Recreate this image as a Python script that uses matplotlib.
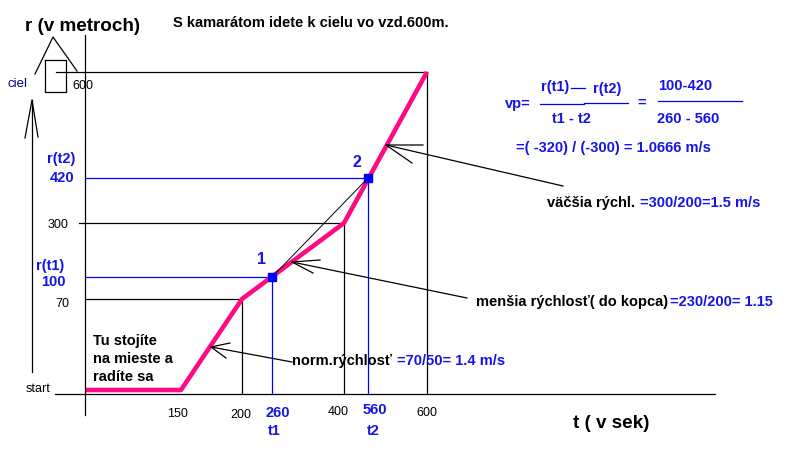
"""Sketch: r(t) walk to the goal at 600 m, secant speed between t1 and t2."""
import numpy as np
import matplotlib
matplotlib.use('Agg')
import matplotlib.pyplot as plt

plt.rcParams['font.family'] = ['Liberation Sans', 'DejaVu Sans']

# walk: time (s) -> distance (m)
t_path = [0, 150, 200, 400, 600]
r_path = [0, 0, 70, 300, 600]
# the two marked points
t_pts = [260, 560]
r_pts = [100, 420]
pt_names = ['1', '2']

# guide lines drawn from the axes to the curve
guide_t = [200, 260, 400, 560, 600]
guide_r = [70, 100, 300, 420, 600]
guide_blue = [False, True, False, True, False]

t_labels = ['150', '200', '260', '400', '560', '600']
r_labels = ['70', '100', '300', '420', '600']

# the axes are hand drawn: where each value landed on the sketch (pixels)
T_ANCH = [0, 150, 200, 260, 400, 560, 600]
X_PX = [85, 181, 242, 272, 344, 368, 427]
R_ANCH = [0, 70, 100, 300, 420, 600]
Y_PX = [390, 299, 277, 223, 178, 72]

PINK = '#FF0A82'
BLUE = '#0000FF'
TBLUE = '#1414E6'
W, H = 794, 471
BS = 10.5   # bold text size


def piecewise(xs, ys):
    xs = np.asarray(xs, float)
    ys = np.asarray(ys, float)

    def f(v):
        v = np.asarray(v, float)
        out = np.interp(v, xs, ys)
        lo = ys[0] + (v - xs[0]) * (ys[1] - ys[0]) / (xs[1] - xs[0])
        hi = ys[-1] + (v - xs[-1]) * (ys[-1] - ys[-2]) / (xs[-1] - xs[-2])
        out = np.where(v < xs[0], lo, out)
        out = np.where(v > xs[-1], hi, out)
        return out
    return f


fwd_x, inv_x = piecewise(T_ANCH, X_PX), piecewise(X_PX, T_ANCH)
neg_y = [-y for y in Y_PX]
fwd_y, inv_y = piecewise(R_ANCH, neg_y), piecewise(neg_y, R_ANCH)

fig = plt.figure(figsize=(W / 100, H / 100), dpi=100)

# data axes with the sketch's own scale
ax = fig.add_axes([0, 0, 1, 1])
ax.set_xscale('function', functions=(fwd_x, inv_x))
ax.set_yscale('function', functions=(fwd_y, inv_y))
ax.set_xlim(float(inv_x(0)), float(inv_x(W)))
ax.set_ylim(float(inv_y(-H)), float(inv_y(0)))
ax.axis('off')

# overlay in pixel coordinates for the hand-drawn annotations
ov = fig.add_axes([0, 0, 1, 1])
ov.set_xlim(0, W)
ov.set_ylim(H, 0)
ov.axis('off')
ov.patch.set_alpha(0)

lw = 0.9
r_axis = float(inv_y(-394))

# guide lines
h_start = [86, 86, 79, 86, 56]
for t, r, b, xs in zip(guide_t, guide_r, guide_blue, h_start):
    c = BLUE if b else 'black'
    ax.plot([float(inv_x(xs)), t], [r, r], color=c, lw=lw)
    ax.plot([t, t], [r, r_axis], color=c, lw=lw)

# walk and secant
ax.plot(t_path, r_path, color=PINK, lw=3.3, solid_capstyle='butt', zorder=3)
ax.plot(t_pts, r_pts, color='black', lw=0.7, zorder=4)
ax.plot(t_pts, r_pts, 's', color=BLUE, ms=6, zorder=5)

# axes drawn by hand
ov.plot([55, 715], [394, 394], color='black', lw=lw)
ov.plot([85, 85], [35, 415], color='black', lw=lw)
# arrow on the left
ov.plot([32, 32], [372, 100], color='black', lw=lw)
ov.plot([25, 32, 38], [138, 100, 137], color='black', lw=lw)
# goal: little house
ov.plot([45, 66, 66, 45, 45], [60, 60, 92, 92, 60], color='black', lw=lw)
ov.plot([35, 53, 77], [74, 37, 71], color='black', lw=lw)

# pointer arrows
arrows = [((292, 362), (211, 347), (230, 343), (226, 358)),
          ((467, 298), (292, 262), (320, 260), (313, 273)),
          ((563, 186), (386, 145), (423, 145), (412, 163))]
for start, tip, b1, b2 in arrows:
    ov.plot([start[0], tip[0]], [start[1], tip[1]], color='black', lw=lw)
    ov.plot([b1[0], tip[0], b2[0]], [b1[1], tip[1], b2[1]], color='black', lw=lw)


def txt(x, y, s, size=BS, bold=True, color='black', ha='left'):
    ov.text(x, y, s, fontsize=size, fontweight='bold' if bold else 'normal',
            color=color, ha=ha, va='baseline')


txt(25, 31, 'r (v metroch)', size=13.6)
txt(173, 27, 'S kamarátom idete k cielu vo vzd.600m.', size=10.5)
txt(8, 87, 'ciel', size=9.5, bold=False, color='#000080')
txt(72, 89, r_labels[4], size=9, bold=False)
txt(47, 163, 'r(t2)', color=TBLUE)
txt(74, 182, r_labels[3], color=TBLUE, ha='right')
txt(68, 228, r_labels[2], size=9, bold=False, ha='right')
txt(36, 270, 'r(t1)', color=TBLUE)
txt(66, 286, r_labels[1], color=TBLUE, ha='right')
txt(69, 307, r_labels[0], size=9, bold=False, ha='right')
txt(26, 392, 'start', size=9, bold=False)

for s, x, y in zip(['Tu stojíte', 'na mieste a', 'radíte sa'],
                   [93, 93, 93], [345, 363, 381]):
    txt(x, y, s)

# x tick labels
tick_x = [178, 241, 278, 338, 375, 427]
tick_y = [417, 418, 417, 415, 414, 416]
for s, x, y in zip(t_labels, tick_x, tick_y):
    blue = s in ('260', '560')
    txt(x, y, s, size=BS if blue else 9, bold=blue,
        color=TBLUE if blue else 'black', ha='center')
txt(274, 435, 't1', color=TBLUE, ha='center')
txt(373, 435, 't2', color=TBLUE, ha='center')
txt(573, 428, 't ( v sek)', size=13.6)

# point names
txt(262, 264, pt_names[0], size=11.5, color=TBLUE, ha='center')
txt(357, 167, pt_names[1], size=11.5, color=TBLUE, ha='center')

# average speed formula
txt(505, 108, 'vp=', color=TBLUE)
txt(541, 91, 'r(t1)', color=TBLUE)
ov.plot([571, 585], [88, 88], color=BLUE, lw=lw)
txt(593, 93, 'r(t2)', color=TBLUE)
ov.plot([540, 584], [104, 104], color=BLUE, lw=lw)
ov.plot([584, 628], [103, 103], color=BLUE, lw=lw)
txt(552, 123, 't1 - t2', color=TBLUE)
txt(637, 107, '=', color=TBLUE)
txt(658, 90, '100-420', color=TBLUE)
ov.plot([658, 742], [101, 101], color=BLUE, lw=lw)
txt(657, 123, '260 - 560', color=TBLUE)
txt(516, 152, '=( -320) / (-300) = 1.0666 m/s', color=TBLUE)

# speed notes
txt(547, 207, 'väčšia rýchl.')
txt(640, 207, '=300/200=1.5 m/s', color=TBLUE)
txt(476, 306, 'menšia rýchlosť( do kopca)')
txt(670, 306, '=230/200= 1.15', color=TBLUE)
txt(292, 365, 'norm.rýchlosť')
txt(397, 365, '=70/50= 1.4 m/s', color=TBLUE)

fig.savefig('out.png', dpi=100)
